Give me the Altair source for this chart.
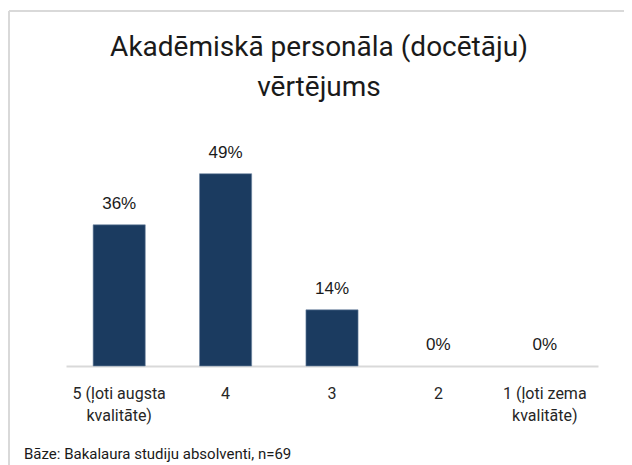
import altair as alt
import pandas as pd

categories = ["5 (ļoti augsta\nkvalitāte)", "4", "3", "2", "1 (ļoti zema\nkvalitāte)"]
values = [36.2, 49.3, 14.4, 0.0, 0.0]
title_lines = ["Akadēmiskā personāla (docētāju)", "vērtējums"]
footnote = "Bāze: Bakalaura studiju absolventi, n=69"

df = pd.DataFrame({"cat": categories, "val": values})

BAR = "#1B3B60"
TXT = "#1a1a1a"

x = alt.X(
    "cat:N",
    sort=categories,
    scale=alt.Scale(paddingInner=0.51, paddingOuter=0.255),
    axis=alt.Axis(
        title=None, labelAngle=0, labelExpr="split(datum.label, '\\n')",
        ticks=False, domainColor="#d9d9d9", domainWidth=2, grid=False,
        labelFont="Roboto", labelFontSize=16, labelColor="#262626",
        labelPadding=19, labelLineHeight=22,
    ),
)
y = alt.Y("val:Q", scale=alt.Scale(domain=[0, 60]), axis=None)

base = alt.Chart(df)

bars = base.transform_filter("datum.val > 0").mark_bar(
    color=BAR, stroke="#6f87a3", strokeWidth=0.6
).encode(x=x, y=y)

labels = base.transform_calculate(
    lbl="format(datum.val, '.0f') + '%'"
).mark_text(
    dy=-16, baseline="alphabetic", font="Liberation Sans", fontSize=17, color=TXT
).encode(x=x, y=y, text="lbl:N")

one = pd.DataFrame({"k": [0]})

title = alt.Chart(one).mark_text(
    font="Roboto", fontSize=28, color=TXT, align="center", baseline="alphabetic", lineHeight=40
).encode(x=alt.value(253), y=alt.value(-76), text=alt.value(title_lines))

foot = alt.Chart(one).mark_text(
    font="Roboto", fontSize=15, color=TXT, align="left", baseline="alphabetic"
).encode(x=alt.value(-42), y=alt.value(327), text=alt.value(footnote))

border_top = alt.Chart(one).mark_rule(color="#d9d9d9", strokeWidth=2).encode(
    x=alt.value(-57), x2=alt.value(700), y=alt.value(-121)
)
border_left = alt.Chart(one).mark_rule(color="#d9d9d9", strokeWidth=2).encode(
    x=alt.value(-57), y=alt.value(-121), y2=alt.value(500)
)

chart = alt.layer(border_top, border_left, bars, labels, title, foot).properties(
    width=532,
    height=234,
    padding={"left": 58, "top": 124, "right": 26, "bottom": 99},
    autosize=alt.AutoSizeParams(type="none"),
    background="white",
).configure_view(stroke=None)

chart.save("out.html", embed_options={"renderer": "svg", "actions": False})
